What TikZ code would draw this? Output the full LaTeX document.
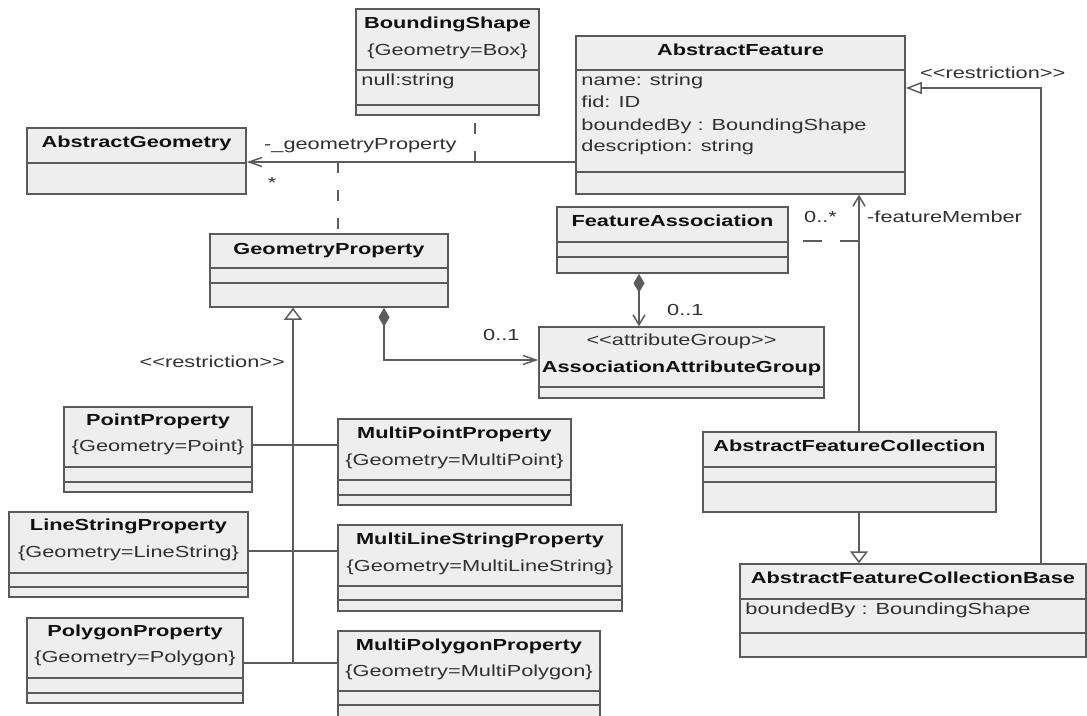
\documentclass[tikz,border=0pt]{standalone}
\usepackage{fontspec}
\setmainfont{Liberation Sans}[FakeStretch=1.36]
\usetikzlibrary{arrows.meta}

\definecolor{boxfill}{HTML}{EEEEEE}
\definecolor{boxline}{HTML}{5A5A5A}
\definecolor{wirecol}{HTML}{5C5C5C}
\definecolor{ink}{HTML}{111111}
\definecolor{softink}{HTML}{303030}

% class box: name, left, top, right, bottom (pixel units, y downwards)
\newcommand\umlclass[5]{%
  \node[cls, minimum width={(#4-#2)*1pt}, minimum height={(#5-#3)*1pt}]
    (#1) at ({(#2+#4)/2},{(#3+#5)/2}) {};}
% compartment separator inside a class box at height #2
\newcommand\umlsep[2]{\draw[sepline] (#1.west |- 0,#2) -- (#1.east |- 0,#2);}
% stereotype brackets, kept as plain angle brackets
\newcommand\stereo[1]{<\kern0pt<#1>\kern0pt>}

\tikzset{
  genV/.tip={Triangle[open,fill=white,length=12pt,width=18pt]},
  genH/.tip={Triangle[open,fill=white,length=16pt,width=12pt]},
  navV/.tip={Straight Barb[length=10pt,width=12pt]},
  navH/.tip={Straight Barb[length=13pt,width=9pt]},
  comp/.tip={Diamond[length=19pt,width=11pt]},
}

\begin{document}
\begin{tikzpicture}[x=1pt, y=-1pt,
  cls/.style={draw=boxline, fill=boxfill, line width=1.5pt, inner sep=0pt, rectangle},
  sepline/.style={draw=boxline, line width=1.5pt},
  ttl/.style={anchor=mid, inner sep=0pt, text=ink, font=\fontsize{16}{19}\selectfont\bfseries},
  sub/.style={anchor=mid, inner sep=0pt, text=softink, font=\fontsize{16}{19}\selectfont},
  att/.style={anchor=mid west, inner sep=0pt, xshift=6pt, text=softink, font=\fontsize{16}{19}\selectfont},
  lbl/.style={inner sep=0pt, text=softink, font=\fontsize{16}{19}\selectfont},
  wire/.style={draw=wirecol, line width=1.5pt},
  dashlink/.style={dash pattern=on 11pt off 17pt},
]
\fill[white] (0,0) rectangle (1087,715);
\useasboundingbox (0,0) rectangle (1087,715);

% ---------- classes ----------
\umlclass{BS}{356}{9}{539}{115}
\umlsep{BS}{70}\umlsep{BS}{105}
\node[ttl] (BS-t) at (BS.north |- 0,26) {BoundingShape};
\node[sub] (BS-g) at (BS.north |- 0,53) {\{Geometry=Box\}};
\node[att] (BS-a) at (BS.west |- 0,83) {null:string};

\umlclass{AG}{27}{128}{246}{194}
\umlsep{AG}{163}
\node[ttl] (AG-t) at (AG.north |- 0,145) {AbstractGeometry};

\umlclass{AF}{576}{36}{905}{194}
\umlsep{AF}{70}\umlsep{AF}{172}
\node[ttl] (AF-t) at (AF.north |- 0,53) {AbstractFeature};
\node[att] (AF-a1) at (AF.west |- 0,83) {name: string};
\node[att] (AF-a2) at (AF.west |- 0,105) {fid: ID};
\node[att] (AF-a3) at (AF.west |- 0,128) {boundedBy : BoundingShape};
\node[att] (AF-a4) at (AF.west |- 0,149) {description: string};

\umlclass{GP}{210}{234}{448}{307}
\umlsep{GP}{268}\umlsep{GP}{283}
\node[ttl] (GP-t) at (GP.north |- 0,252) {GeometryProperty};

\umlclass{FA}{557}{207}{788}{273}
\umlsep{FA}{242}\umlsep{FA}{257}
\node[ttl] (FA-t) at (FA.north |- 0,224) {FeatureAssociation};

\umlclass{AAG}{539}{327}{824}{398}
\umlsep{AAG}{387}
\node[sub] (AAG-s) at (AAG.north |- 0,343) {\stereo{attributeGroup}};
\node[ttl] (AAG-t) at (AAG.north |- 0,370) {AssociationAttributeGroup};

\umlclass{PP}{64}{407}{252}{492}
\umlsep{PP}{467}\umlsep{PP}{482}
\node[ttl] (PP-t) at (PP.north |- 0,423) {PointProperty};
\node[sub] (PP-g) at (PP.north |- 0,449) {\{Geometry=Point\}};

\umlclass{LSP}{9}{512}{248}{597}
\umlsep{LSP}{573}\umlsep{LSP}{587}
\node[ttl] (LSP-t) at (LSP.north |- 0,528) {LineStringProperty};
\node[sub] (LSP-g) at (LSP.north |- 0,555) {\{Geometry=LineString\}};

\umlclass{PGP}{27}{618}{243}{703}
\umlsep{PGP}{678}\umlsep{PGP}{693}
\node[ttl] (PGP-t) at (PGP.north |- 0,634) {PolygonProperty};
\node[sub] (PGP-g) at (PGP.north |- 0,660) {\{Geometry=Polygon\}};

\umlclass{MPP}{338}{419}{571}{505}
\umlsep{MPP}{480}\umlsep{MPP}{495}
\node[ttl] (MPP-t) at (MPP.north |- 0,436) {MultiPointProperty};
\node[sub] (MPP-g) at (MPP.north |- 0,463) {\{Geometry=MultiPoint\}};

\umlclass{MLSP}{338}{525}{622}{611}
\umlsep{MLSP}{586}\umlsep{MLSP}{600}
\node[ttl] (MLSP-t) at (MLSP.north |- 0,542) {MultiLineStringProperty};
\node[sub] (MLSP-g) at (MLSP.north |- 0,569) {\{Geometry=MultiLineString\}};

\umlclass{MPGP}{338}{631}{600}{719}
\umlsep{MPGP}{691}\umlsep{MPGP}{705}
\node[ttl] (MPGP-t) at (MPGP.north |- 0,648) {MultiPolygonProperty};
\node[sub] (MPGP-g) at (MPGP.north |- 0,674) {\{Geometry=MultiPolygon\}};

\umlclass{AFC}{703}{432}{996}{512}
\umlsep{AFC}{467}\umlsep{AFC}{482}
\node[ttl] (AFC-t) at (AFC.north |- 0,449) {AbstractFeatureCollection};

\umlclass{AFCB}{740}{564}{1086}{657}
\umlsep{AFCB}{599}\umlsep{AFCB}{633}
\node[ttl] (AFCB-t) at (AFCB.north |- 0,581) {AbstractFeatureCollectionBase};
\node[att] (AFCB-a) at (AFCB.west |- 0,612) {boundedBy : BoundingShape};

% ---------- connectors ----------
\coordinate (jBS) at (475,162);
\coordinate (jGP) at (338,162);
\draw[wire, -navH] (AF.west |- jBS) -- (AG.east |- jBS);
\draw[wire, dashlink] (jBS) -- (BS.south -| jBS);
\draw[wire, dashlink] (jGP) -- (GP.north -| jGP);
\node[lbl, anchor=mid west] (geomrole) at (264,147) {-\_geometryProperty};
\node[lbl, anchor=base] (geommult) at (272,188) {*};

% restriction hierarchy below GeometryProperty
\coordinate (trunk) at (293,663);
\draw[wire, -genV] (trunk) -- (GP.south -| trunk);
\draw[wire] (PP.east |- 0,445) -- (MPP.west |- 0,445);
\draw[wire] (LSP.east |- 0,551) -- (MLSP.west |- 0,551);
\draw[wire] (PGP.east |- 0,663) -- (MPGP.west |- 0,663);
\node[lbl, anchor=mid east] (restrL) at (285,365) {\stereo{restriction}};

% compositions into AssociationAttributeGroup
\coordinate (bend) at (384,360);
\draw[wire, comp-navH] (GP.south -| bend) |- (AAG.west |- bend);
\node[lbl, anchor=mid west] (m1) at (483,338) {0..1};
\coordinate (fav) at (639,300);
\draw[wire, comp-navV] (FA.south -| fav) -- (AAG.north -| fav);
\node[lbl, anchor=mid west] (m2) at (667,313) {0..1};

% featureMember association
\coordinate (fm) at (859,241);
\draw[wire, -navV] (AFC.north -| fm) -- (AF.south -| fm);
\draw[wire, dash pattern=on 19pt off 18pt] (fm) -- (FA.east |- fm);
\node[lbl, anchor=mid west] (m3) at (804,220) {0..*};
\node[lbl, anchor=mid west] (fmrole) at (867,220) {-featureMember};

% generalisations on the right
\draw[wire, -genV] (AFC.south -| fm) -- (AFCB.north -| fm);
\coordinate (rc) at (1041,88);
\draw[wire, -genH] (AFCB.north -| rc) |- (AF.east |- rc);
\node[lbl, anchor=mid west] (restrR) at (920,76) {\stereo{restriction}};
\end{tikzpicture}
\end{document}
